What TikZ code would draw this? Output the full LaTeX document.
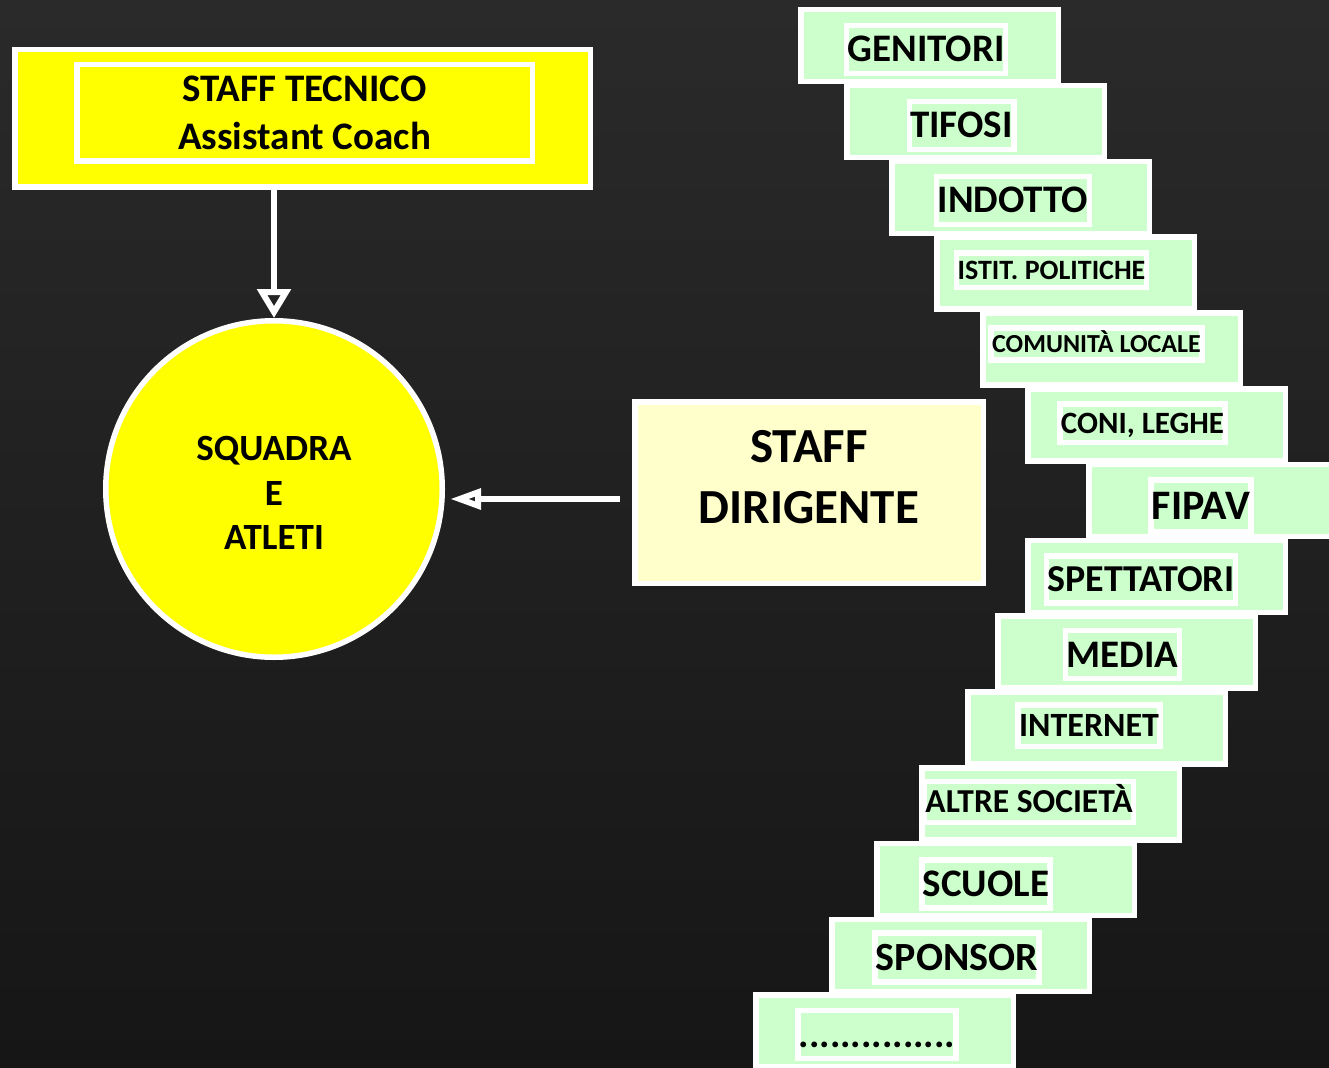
\documentclass[tikz,border=0pt]{standalone}
\usepackage{fontspec}
\setmainfont{Carlito}
\usepackage{tikz}
\usetikzlibrary{arrows.meta, positioning, calc}
\definecolor{boardtop}{HTML}{2A2A2A}
\definecolor{boardbot}{HTML}{161616}
\definecolor{yfill}{HTML}{FFFF00}
\definecolor{pale}{HTML}{FFFFCC}
\definecolor{gfill}{HTML}{CCFFCC}
\newcommand{\tagdots}{...............}

\begin{document}
\begin{tikzpicture}[x=1pt, y=-1pt,
    frame/.style={draw=white, line width=5.5pt, inner sep=0pt, align=center},
    ybox/.style={frame, fill=yfill},
    gbox/.style={frame, fill=gfill, anchor=north west, minimum width=257.5pt, minimum height=72pt},
    gtag/.style={frame, fill=gfill, anchor=base, inner xsep=1pt, text depth=0pt},
    arr/.style={draw=white, line width=6pt, -{Triangle[open, length=29pt, width=33pt]}},
    arrl/.style={draw=white, line width=6pt, -{Triangle[open, length=31pt, width=20pt]}, shorten >=5pt},
    ]

    % chalkboard
    \useasboundingbox (0,0) rectangle (1329,1067);
    \clip (0,0) rectangle (1329,1067);
    \shade[top color=boardtop, bottom color=boardbot] (0,0) rectangle (1329,1067);

    % staff tecnico (top left)
    \node[ybox, minimum width=575.5pt, minimum height=137.5pt] (tecnicobox) at (302.5,118.5) {};
    \node[ybox, minimum width=455.5pt, minimum height=96.5pt,
          font=\bfseries\fontsize{39}{48}\selectfont] (tecnico) at (304.5,113) {STAFF TECNICO\\Assistant Coach};

    % squadra (circle)
    \node[ybox, circle, minimum size=336.5pt] (squadra) at (274,489) {};
    \node[align=center, font=\bfseries\fontsize{37}{44.5}\selectfont] (squadratxt)
        at ([yshift=-4pt]squadra.center) {SQUADRA\\E\\ATLETI};

    % staff dirigente
    \node[frame, fill=pale, minimum width=348.5pt, minimum height=181.5pt] (dirigente) at (809,492.5) {};
    \node[align=center, font=\bfseries\fontsize{49}{61}\selectfont] (dirigentetxt)
        at ([yshift=15pt]dirigente.center) {STAFF\\DIRIGENTE};

    % stakeholders (staircase)
    \foreach \bx/\tx/\ty/\tsize/\lbl [count=\i] in {
        798/926/62/39/GENITORI,
        844/961.5/138/39/TIFOSI,
        889/1013/213/39/INDOTTO,
        934/1051.5/279/28/ISTIT. POLITICHE,
        980/1096.5/352/26/COMUNITÀ LOCALE,
        1025/1142.5/433/31/{CONI, LEGHE},
        1086/1201/519/42/FIPAV,
        1025/1141/591.5/38/SPETTATORI,
        995/1122.5/667/39/MEDIA,
        965/1089/736.5/34/INTERNET,
        919/1029/812.5/33.5/ALTRE SOCIETÀ,
        874/986/896.5/39/SCUOLE,
        829/957/970/40/SPONSOR,
        753/877/1047/39/\tagdots} {
        \pgfmathsetmacro\bytop{7+75.8*(\i-1)}
        \pgfmathsetmacro\tagh{0.63*\tsize}
        \pgfmathsetmacro\tagsep{0.3*\tsize}
        \node[gbox] (box\i) at (\bx,\bytop) {};
        \node[gtag, text height=\tagh pt, inner ysep=\tagsep pt,
              font=\bfseries\fontsize{\tsize}{\tsize}\selectfont] (tag\i) at (\tx,\ty) {\lbl};
    }

    % arrows
    \coordinate (dstart) at (620,499);
    \draw[arr] (squadra.north |- tecnicobox.south) -- (squadra.north);
    \draw[arrl] (dstart) -- (squadra.east |- dstart);
\end{tikzpicture}
\end{document}
